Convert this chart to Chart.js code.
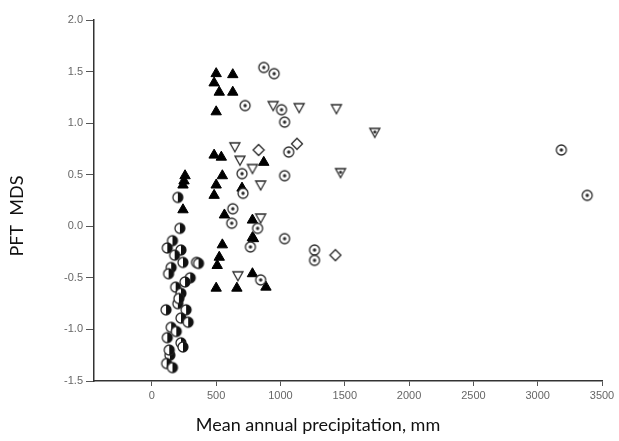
<!DOCTYPE html>
<html>
<head>
<meta charset="utf-8">
<script src="https://cdn.jsdelivr.net/npm/chart.js@4.4.1/dist/chart.umd.min.js"></script>
<style>
  html, body { margin: 0; padding: 0; background: #fff; }
  #wrap { width: 619px; height: 441px; }
</style>
</head>
<body>
<div id="wrap"><canvas id="chart" width="619" height="441"></canvas></div>
<script>
// filled triangles
const triX = [500, 629, 484, 524, 629, 500, 484, 540, 870, 258, 242, 242, 548, 500, 484, 701, 782, 564, 548, 524, 790, 508, 500, 661, 782, 887, 782, 250];
const triY = [1.48, 1.47, 1.39, 1.30, 1.30, 1.11, 0.69, 0.67, 0.62, 0.49, 0.40, 0.16, 0.49, 0.40, 0.30, 0.37, 0.06, 0.11, -0.18, -0.30, -0.12, -0.38, -0.60, -0.60, -0.46, -0.59, -0.11, 0.44];

// open circles with a centre dot
const dotX = [870, 951, 725, 1008, 1032, 1064, 1032, 701, 709, 629, 621, 822, 766, 1032, 1265, 1265, 846, 3184, 3385];
const dotY = [1.54, 1.48, 1.17, 1.13, 1.01, 0.72, 0.49, 0.51, 0.32, 0.17, 0.03, -0.02, -0.20, -0.12, -0.23, -0.33, -0.52, 0.74, 0.30];

// open inverted triangles
const downX = [645, 685, 782, 846, 943, 1145, 846, 669, 1435];
const downY = [0.77, 0.64, 0.56, 0.40, 1.17, 1.15, 0.08, -0.48, 1.14];

// inverted triangles with a dot
const downDotX = [1733, 1467];
const downDotY = [0.91, 0.52];

// open diamonds
const diaX = [830, 1128, 1427];
const diaY = [0.74, 0.80, -0.28];

// half-filled circles (dry sites)
const halfX = [202, 218, 160, 120, 226, 177, 242, 347, 150, 298, 258, 185, 226, 202, 110, 266, 226, 282, 150, 120, 226, 140, 115, 160, 242, 363, 130, 210, 190, 135];
const halfY = [0.28, -0.02, -0.14, -0.21, -0.23, -0.28, -0.35, -0.35, -0.40, -0.50, -0.54, -0.59, -0.65, -0.75, -0.81, -0.81, -0.89, -0.93, -0.98, -1.08, -1.13, -1.25, -1.33, -1.37, -1.17, -0.36, -0.46, -0.70, -1.02, -1.20];

const xTicks = [0, 500, 1000, 1500, 2000, 2500, 3000, 3500];
const yTicks = [-1.5, -1.0, -0.5, 0.0, 0.5, 1.0, 1.5, 2.0];

const INK = "#2a2a2a";

function pts(xs, ys) {
  return xs.map((x, i) => ({ x, y: ys[i] }));
}

function marker(draw) {
  const c = document.createElement("canvas");
  c.width = 14;
  c.height = 14;
  const g = c.getContext("2d");
  g.strokeStyle = INK;
  g.fillStyle = INK;
  g.lineWidth = 1.3;
  draw(g);
  return c;
}

const dotCircle = marker((g) => {
  g.beginPath(); g.arc(7, 7, 5, 0, Math.PI * 2); g.fillStyle = "#fff"; g.fill(); g.stroke();
  g.fillStyle = INK; g.beginPath(); g.arc(7, 7, 1.7, 0, Math.PI * 2); g.fill();
});

const halfCircle = marker((g) => {
  g.beginPath(); g.arc(7, 7, 5, 0, Math.PI * 2); g.fillStyle = "#fff"; g.fill(); g.stroke();
  g.fillStyle = "#111"; g.beginPath(); g.arc(7, 7, 5, -Math.PI / 2, Math.PI / 2); g.fill();
});

const openDown = marker((g) => {
  g.beginPath(); g.moveTo(2, 3); g.lineTo(12, 3); g.lineTo(7, 12); g.closePath();
  g.fillStyle = "#fff"; g.fill(); g.stroke();
});

const dotDown = marker((g) => {
  g.beginPath(); g.moveTo(2, 3); g.lineTo(12, 3); g.lineTo(7, 12); g.closePath();
  g.fillStyle = "#fff"; g.fill(); g.stroke();
  g.fillStyle = INK; g.beginPath(); g.arc(7, 6.5, 1.6, 0, Math.PI * 2); g.fill();
});

const diamond = marker((g) => {
  g.beginPath(); g.moveTo(7, 1.5); g.lineTo(12.5, 7); g.lineTo(7, 12.5); g.lineTo(1.5, 7); g.closePath();
  g.fillStyle = "#fff"; g.fill(); g.stroke();
});

function set(label, data, style, extra = {}) {
  return Object.assign({ label, data, pointStyle: style, pointRadius: 6, showLine: false }, extra);
}

// axis titles sit off-centre in the original, so draw them at fixed spots
const axisTitles = {
  id: "axisTitles",
  afterDraw(chart) {
    const g = chart.ctx;
    g.save();
    g.fillStyle = "#111";
    g.font = "18px Lato";
    g.textAlign = "center";
    g.textBaseline = "middle";
    g.fillText("Mean annual precipitation, mm", 318, 425);
    g.translate(17, 216);
    g.rotate(-Math.PI / 2);
    g.fillText("PFT  MDS", 0, 0);
    g.restore();
  },
};

new Chart(document.getElementById("chart"), {
  type: "scatter",
  data: {
    datasets: [
      set("half", pts(halfX, halfY), halfCircle),
      set("dot", pts(dotX, dotY), dotCircle),
      set("down", pts(downX, downY), openDown),
      set("downDot", pts(downDotX, downDotY), dotDown),
      set("diamond", pts(diaX, diaY), diamond),
      set("tri", pts(triX, triY), "triangle", { backgroundColor: "#000", borderColor: "#000", borderWidth: 1, pointRadius: 6 }),
    ],
  },
  options: {
    responsive: false,
    animation: false,
    events: [],
    layout: { padding: { top: 20, right: 17, left: 0, bottom: 0 } },
    plugins: { legend: { display: false }, tooltip: { enabled: false } },
    scales: {
      x: {
        type: "linear",
        min: -450,
        max: 3500,
        afterBuildTicks: (s) => { s.ticks = xTicks.map((v) => ({ value: v })); },
        afterFit: (s) => { s.height = 60; },
        ticks: { color: "#666", font: { family: "Liberation Sans", size: 11 }, padding: 3, maxRotation: 0, callback: (v) => String(v) },
        grid: { drawOnChartArea: false, tickLength: 5, color: "#555" },
        border: { color: "#333", width: 1.5 },
      },
      y: {
        type: "linear",
        min: -1.5,
        max: 2.0,
        afterBuildTicks: (s) => { s.ticks = yTicks.map((v) => ({ value: v })); },
        afterFit: (s) => { s.width = 94; },
        ticks: { color: "#666", font: { family: "Liberation Sans", size: 11 }, padding: 3, callback: (v) => Number(v).toFixed(1) },
        grid: { drawOnChartArea: false, tickLength: 8, color: "#555" },
        border: { color: "#333", width: 1.5 },
      },
    },
  },
  plugins: [axisTitles],
});
</script>
</body>
</html>
